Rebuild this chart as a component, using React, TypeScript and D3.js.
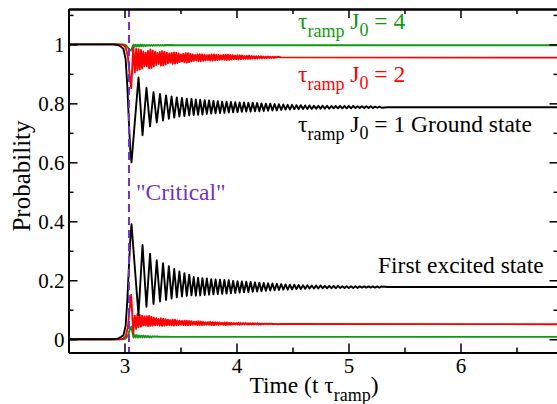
import React, { useEffect, useRef } from "react";
import * as d3 from "d3";

// ---------------- data ----------------
const xMajorTicks = [3, 4, 5, 6];
const xMinorTicks = [2.5, 3.5, 4.5, 5.5, 6.5];
const yMajorTicks = [0, 0.2, 0.4, 0.6, 0.8, 1];
const yMinorTicks = [0.1, 0.3, 0.5, 0.7, 0.9, 1.1];
const xDomain: [number, number] = [2.5, 6.875];
const yDomain: [number, number] = [-0.045, 1.12];
const criticalTime = 3.04;
const rampValues = [4, 2, 1];

// tau_ramp J0 = 1 (black): extrema of the oscillation
const tau1Time = [
  2.5, 2.9, 2.94, 2.97, 2.99, 3.01, 3.025, 3.04, 3.052, 3.0625,
  3.125, 3.161, 3.196, 3.228, 3.259, 3.288, 3.317, 3.344, 3.371, 3.396,
  3.42, 3.444, 3.467, 3.49, 3.513, 3.535, 3.556, 3.578, 3.598,
  3.618, 3.637, 3.657, 3.676, 3.696, 3.716, 3.735, 3.755, 3.774, 3.794,
  3.813, 3.833, 3.853, 3.872, 3.892, 3.911, 3.931, 3.950, 3.970, 3.989,
  4.009, 4.028, 4.048, 4.067, 4.087, 4.106, 4.126, 4.145, 4.165, 4.184,
  4.204, 4.223, 4.243, 4.262, 4.282, 4.301, 4.321, 4.340, 4.360, 4.379,
  4.399, 4.418, 4.438, 4.457, 4.477, 4.496, 4.516, 4.535, 4.555, 4.574,
  4.594, 4.613, 4.633, 4.652, 4.672, 4.691, 4.711, 4.730, 4.750, 4.769,
  4.789, 4.808, 4.828, 4.847, 4.867, 4.886, 4.906, 4.925, 4.945, 4.964,
  4.984, 5.003, 5.023, 5.042, 5.062, 5.081, 5.101, 5.120, 5.140, 5.159,
  5.179, 5.198, 5.218, 5.237, 5.257, 5.276, 5.296,
  5.35, 6.9,
];
const tau1Ground = [
  1, 1, 0.998, 0.992, 0.985, 0.95, 0.86, 0.73, 0.64, 0.6,
  0.888, 0.692, 0.853, 0.722, 0.838, 0.735, 0.832, 0.742, 0.827, 0.748,
  0.823, 0.752, 0.82, 0.755, 0.818, 0.757, 0.816, 0.759, 0.815,
  0.760, 0.813, 0.761, 0.812, 0.762, 0.811, 0.764, 0.810, 0.765, 0.808,
  0.766, 0.807, 0.767, 0.806, 0.768, 0.806, 0.769, 0.805, 0.770, 0.804,
  0.770, 0.803, 0.771, 0.803, 0.772, 0.802, 0.772, 0.802, 0.773, 0.801,
  0.773, 0.800, 0.774, 0.799, 0.775, 0.799, 0.776, 0.798, 0.776, 0.797,
  0.778, 0.796, 0.779, 0.795, 0.779, 0.795, 0.780, 0.794, 0.780, 0.794,
  0.781, 0.793, 0.781, 0.793, 0.781, 0.792, 0.782, 0.792, 0.782, 0.792,
  0.782, 0.792, 0.782, 0.791, 0.783, 0.791, 0.783, 0.791, 0.783, 0.791,
  0.783, 0.791, 0.783, 0.791, 0.784, 0.790, 0.784, 0.790, 0.784, 0.790,
  0.784, 0.790, 0.784, 0.789, 0.785, 0.789, 0.785,
  0.787, 0.787,
];
const tau1Excited = [
  0, 0, 0.002, 0.008, 0.013, 0.045, 0.13, 0.25, 0.34, 0.39,
  0.082, 0.320, 0.110, 0.290, 0.120, 0.268, 0.128, 0.258, 0.133, 0.248,
  0.138, 0.238, 0.142, 0.230, 0.145, 0.224, 0.147, 0.219, 0.149,
  0.211, 0.148, 0.209, 0.149, 0.207, 0.150, 0.206, 0.151, 0.204, 0.152,
  0.203, 0.153, 0.202, 0.154, 0.201, 0.155, 0.200, 0.156, 0.198, 0.157,
  0.197, 0.158, 0.196, 0.159, 0.195, 0.160, 0.194, 0.161, 0.193, 0.162,
  0.192, 0.163, 0.191, 0.164, 0.190, 0.165, 0.189, 0.166, 0.188, 0.167,
  0.187, 0.168, 0.186, 0.168, 0.185, 0.169, 0.185, 0.170, 0.184, 0.170,
  0.183, 0.171, 0.183, 0.172, 0.182, 0.172, 0.182, 0.172, 0.182, 0.173,
  0.181, 0.173, 0.181, 0.173, 0.181, 0.173, 0.181, 0.174, 0.180, 0.174,
  0.180, 0.174, 0.180, 0.174, 0.180, 0.174, 0.180, 0.175, 0.179, 0.175,
  0.179, 0.175, 0.179, 0.175, 0.179, 0.175, 0.179,
  0.177, 0.177,
];

// tau_ramp J0 = 2 (red)
const tau2Time = [
  2.5, 2.95, 2.99, 3.01, 3.03, 3.045, 3.06,
  3.078, 3.092, 3.104,
  3.115, 3.126, 3.136, 3.147, 3.157, 3.168, 3.178, 3.189, 3.199, 3.210,
  3.220, 3.231, 3.241, 3.252, 3.262, 3.273, 3.283, 3.294, 3.304, 3.315,
  3.325, 3.336, 3.346, 3.357, 3.367, 3.378, 3.388, 3.399, 3.409, 3.420,
  3.430, 3.441, 3.451, 3.462, 3.472, 3.483, 3.493, 3.504, 3.514, 3.525,
  3.535, 3.546, 3.556, 3.567, 3.577, 3.588, 3.598, 3.609, 3.619, 3.630,
  3.640, 3.651, 3.661, 3.672, 3.682, 3.693, 3.703, 3.714, 3.724, 3.735,
  3.745, 3.756, 3.766, 3.777, 3.787, 3.798, 3.808, 3.819, 3.829, 3.840,
  3.850, 3.861, 3.871, 3.882, 3.892, 3.903, 3.913, 3.924, 3.934, 3.945,
  3.955, 3.966, 3.976, 3.987, 3.997, 4.008, 4.018, 4.029, 4.039, 4.050,
  4.060, 4.071, 4.081, 4.092, 4.102, 4.113, 4.123, 4.134, 4.144, 4.155,
  4.165, 4.176, 4.186, 4.197, 4.207, 4.218, 4.228, 4.239, 4.249, 4.260,
  4.270, 4.281, 4.291, 4.302, 4.312, 4.323, 4.333, 4.344, 4.354, 4.365,
  4.4, 6.9,
];
const tau2Ground = [
  1, 1, 0.998, 0.99, 0.96, 0.9, 0.851,
  0.99, 0.905, 0.985,
  0.912, 0.984, 0.915, 0.981, 0.918, 0.976, 0.926, 0.972, 0.926, 0.978,
  0.918, 0.983, 0.920, 0.979, 0.925, 0.975, 0.930, 0.971, 0.934, 0.974,
  0.928, 0.977, 0.929, 0.975, 0.932, 0.972, 0.936, 0.969, 0.938, 0.971,
  0.934, 0.973, 0.935, 0.972, 0.937, 0.969, 0.940, 0.966, 0.942, 0.968,
  0.939, 0.970, 0.938, 0.970, 0.940, 0.968, 0.942, 0.966, 0.944, 0.964,
  0.945, 0.966, 0.943, 0.967, 0.943, 0.966, 0.944, 0.965, 0.946, 0.963,
  0.947, 0.964, 0.945, 0.966, 0.945, 0.966, 0.946, 0.965, 0.947, 0.964,
  0.948, 0.963, 0.949, 0.964, 0.948, 0.965, 0.947, 0.965, 0.948, 0.964,
  0.949, 0.963, 0.950, 0.962, 0.950, 0.963, 0.949, 0.963, 0.950, 0.962,
  0.951, 0.961, 0.951, 0.961, 0.951, 0.962, 0.951, 0.961, 0.952, 0.960,
  0.952, 0.960, 0.952, 0.960, 0.953, 0.960, 0.953, 0.959, 0.953, 0.959,
  0.953, 0.959, 0.954, 0.958, 0.954, 0.958, 0.954, 0.958, 0.955, 0.958,
  0.956, 0.955,
];
const tau2Excited = [
  0, 0, 0.002, 0.01, 0.04, 0.1, 0.15,
  0.02, 0.08, 0.035,
  0.085, 0.041, 0.083, 0.043, 0.080, 0.046, 0.077, 0.046, 0.078, 0.044,
  0.079, 0.045, 0.076, 0.046, 0.073, 0.047, 0.071, 0.048, 0.069, 0.046,
  0.071, 0.045, 0.070, 0.046, 0.068, 0.047, 0.066, 0.048, 0.065, 0.047,
  0.066, 0.046, 0.066, 0.047, 0.064, 0.048, 0.063, 0.049, 0.062, 0.048,
  0.063, 0.047, 0.063, 0.047, 0.062, 0.048, 0.061, 0.049, 0.060, 0.049,
  0.060, 0.048, 0.061, 0.048, 0.060, 0.048, 0.059, 0.049, 0.058, 0.050,
  0.058, 0.049, 0.059, 0.048, 0.058, 0.048, 0.058, 0.049, 0.057, 0.049,
  0.057, 0.050, 0.056, 0.049, 0.057, 0.048, 0.057, 0.049, 0.056, 0.049,
  0.056, 0.050, 0.055, 0.050, 0.055, 0.050, 0.056, 0.049, 0.055, 0.050,
  0.055, 0.050, 0.055, 0.050, 0.054, 0.050, 0.054, 0.050, 0.054, 0.050,
  0.054, 0.051, 0.054, 0.050, 0.053, 0.050, 0.053, 0.051, 0.053, 0.051,
  0.053, 0.051, 0.053, 0.051, 0.053, 0.051, 0.052, 0.051, 0.052, 0.051,
  0.052, 0.051,
];

// tau_ramp J0 = 4 (green)
const tau4Time = [
  2.5, 2.98, 3.01, 3.03, 3.045, 3.06, 3.07,
  3.08, 3.09, 3.10, 3.11, 3.12, 3.13, 3.14, 3.15, 3.16, 3.17,
  3.18, 3.19, 3.20, 3.21, 3.22, 3.23, 3.24, 3.25, 3.26, 3.27,
  3.28, 3.29, 3.30, 3.31, 3.32, 3.33, 3.34, 3.35, 3.36, 3.37,
  3.38, 3.39, 3.40,
  3.45, 6.9,
];
const tau4Ground = [
  1, 1, 0.998, 0.99, 0.982, 0.979, 0.99,
  0.999, 0.992, 0.999, 0.993, 0.999, 0.993, 0.999, 0.994, 0.999, 0.994,
  0.998, 0.994, 0.998, 0.995, 0.998, 0.995, 0.998, 0.995, 0.998, 0.996,
  0.998, 0.996, 0.998, 0.996, 0.998, 0.996, 0.998, 0.996, 0.998, 0.997,
  0.998, 0.997, 0.998,
  0.997, 0.997,
];
const tau4Excited = [
  0, 0, 0.002, 0.012, 0.03, 0.042, 0.025,
  0.006, 0.016, 0.006, 0.014, 0.006, 0.013, 0.007, 0.012, 0.007, 0.012,
  0.007, 0.011, 0.007, 0.011, 0.007, 0.010, 0.007, 0.010, 0.008, 0.010,
  0.008, 0.010, 0.008, 0.009, 0.008, 0.009, 0.008, 0.009, 0.008, 0.009,
  0.008, 0.009, 0.008,
  0.008, 0.008,
];

// ---------------- layout / style ----------------
const W = 557;
const H = 404;
const plotLeft = 68.5;
const plotRight = 558.5;
const plotTop = 9;
const plotBottom = 352.5;
const FONT = "'Liberation Serif', 'Times New Roman', Times, serif";
const GREEN = "#119911";
const RED = "#ff0000";
const BLACK = "#000000";
const PURPLE = "#7a2fc4";
const MAIN_FS = 23.5;
const SUB_FS = 18;

type Pt = [number, number];
const zip = (t: number[], p: number[]): Pt[] => t.map((tt, i) => [tt, p[i]]);

export default function App() {
  const x = d3.scaleLinear().domain(xDomain).range([plotLeft, plotRight]);
  const y = d3.scaleLinear().domain(yDomain).range([plotBottom, plotTop]);
  const line = d3
    .line<Pt>()
    .x((d) => x(d[0]))
    .y((d) => y(d[1]));

  const series = [
    { data: zip(tau4Time, tau4Ground), color: GREEN },
    { data: zip(tau4Time, tau4Excited), color: GREEN },
    { data: zip(tau2Time, tau2Ground), color: RED },
    { data: zip(tau2Time, tau2Excited), color: RED },
    { data: zip(tau1Time, tau1Ground), color: BLACK },
    { data: zip(tau1Time, tau1Excited), color: BLACK },
  ];

  const bottomRef = useRef<SVGGElement>(null);
  const topRef = useRef<SVGGElement>(null);
  const leftRef = useRef<SVGGElement>(null);
  const rightRef = useRef<SVGGElement>(null);

  useEffect(() => {
    const style = (g: any) => {
      g.selectAll("g").attr("font-family", FONT).attr("font-size", 21);
      g.selectAll(".domain").attr("stroke", "#000").attr("stroke-width", 1.8);
      g.selectAll(".tick line").attr("stroke", "#000").attr("stroke-width", 1.5);
      g.selectAll("text")
        .attr("fill", "#000")
        .attr("font-family", FONT)
        .attr("font-size", 21);
    };
    const fmtY = (d: any) => (d === 0 ? "0" : d === 1 ? "1" : d3.format(".1f")(d));

    // bottom
    const gb = d3.select(bottomRef.current);
    gb.selectAll("*").remove();
    gb.append("g").call(
      d3.axisBottom(x).tickValues(xMinorTicks).tickSize(-5).tickSizeOuter(0).tickFormat(() => "")
    );
    gb.append("g").call(
      d3.axisBottom(x).tickValues(xMajorTicks).tickSize(-9).tickSizeOuter(0).tickFormat(d3.format("d") as any)
    );
    style(gb);
    gb.selectAll("text").attr("y", 20).attr("dy", null);

    // top
    const gt = d3.select(topRef.current);
    gt.selectAll("*").remove();
    gt.append("g").call(
      d3.axisTop(x).tickValues(xMinorTicks).tickSize(-5).tickSizeOuter(0).tickFormat(() => "")
    );
    gt.append("g").call(
      d3.axisTop(x).tickValues(xMajorTicks).tickSize(-9).tickSizeOuter(0).tickFormat(() => "")
    );
    style(gt);

    // left
    const gl = d3.select(leftRef.current);
    gl.selectAll("*").remove();
    gl.append("g").call(
      d3.axisLeft(y).tickValues(yMinorTicks).tickSize(-5).tickSizeOuter(0).tickFormat(() => "")
    );
    gl.append("g").call(
      d3.axisLeft(y).tickValues(yMajorTicks).tickSize(-9).tickSizeOuter(0).tickFormat(fmtY as any)
    );
    style(gl);
    gl.selectAll("text").attr("x", -4).attr("dy", "0.33em");

    // right
    const gr = d3.select(rightRef.current);
    gr.selectAll("*").remove();
    gr.append("g").call(
      d3.axisRight(y).tickValues(yMinorTicks).tickSize(-5).tickSizeOuter(0).tickFormat(() => "")
    );
    gr.append("g").call(
      d3.axisRight(y).tickValues(yMajorTicks).tickSize(-9).tickSizeOuter(0).tickFormat(() => "")
    );
    style(gr);
  }, []);

  const tauLabel = (value: number, color: string, yBase: number, suffix: string) => (
    <text x={298} y={yBase} fill={color} fontSize={MAIN_FS} fontFamily={FONT} style={{ whiteSpace: "pre" }}>
      <tspan>τ</tspan>
      <tspan fontSize={SUB_FS} dy={8}>ramp</tspan>
      <tspan dy={-8}>{" J"}</tspan>
      <tspan fontSize={SUB_FS} dy={7}>0</tspan>
      <tspan dy={-7}>{` = ${value}${suffix}`}</tspan>
    </text>
  );

  return (
    <svg
      width={W}
      height={H}
      viewBox={`0 0 ${W} ${H}`}
      style={{ position: "absolute", left: 0, top: 0, background: "#fff" }}
    >
      <defs>
        <clipPath id="plotClip">
          <rect x={plotLeft} y={plotTop} width={plotRight - plotLeft} height={plotBottom - plotTop} />
        </clipPath>
      </defs>
      <rect x={0} y={0} width={W} height={H} fill="#fff" />

      <g clipPath="url(#plotClip)">
        {series.map((s, i) => (
          <path
            key={i}
            d={line(s.data) || ""}
            fill="none"
            stroke={s.color}
            strokeWidth={1.9}
            strokeLinejoin="round"
          />
        ))}
      </g>

      <line
        x1={x(criticalTime)}
        x2={x(criticalTime)}
        y1={plotTop}
        y2={plotBottom}
        stroke={PURPLE}
        strokeWidth={2}
        strokeDasharray="8,5"
      />

      <g ref={bottomRef} transform={`translate(0,${plotBottom})`} />
      <g ref={topRef} transform={`translate(0,${plotTop})`} />
      <g ref={leftRef} transform={`translate(${plotLeft},0)`} />
      <g ref={rightRef} transform={`translate(${plotRight},0)`} />

      {tauLabel(rampValues[0], GREEN, 28.5, "")}
      {tauLabel(rampValues[1], RED, 81.5, "")}
      {tauLabel(rampValues[2], BLACK, 131.5, " Ground state")}

      <text x={378} y={272.5} fontSize={MAIN_FS} fontFamily={FONT} fill={BLACK}>
        First excited state
      </text>
      <text x={136} y={200} fontSize={MAIN_FS} fontFamily={FONT} fill={PURPLE}>
        "Critical"
      </text>

      <text
        transform={`translate(29.5,176) rotate(-90)`}
        textAnchor="middle"
        fontSize={25}
        fontFamily={FONT}
        fill={BLACK}
      >
        Probability
      </text>

      <text x={314} y={393} textAnchor="middle" fontSize={MAIN_FS} fontFamily={FONT} fill={BLACK} style={{ whiteSpace: "pre" }}>
        <tspan>Time (t τ</tspan>
        <tspan fontSize={SUB_FS} dy={8}>ramp</tspan>
        <tspan dy={-8}>)</tspan>
      </text>
    </svg>
  );
}
